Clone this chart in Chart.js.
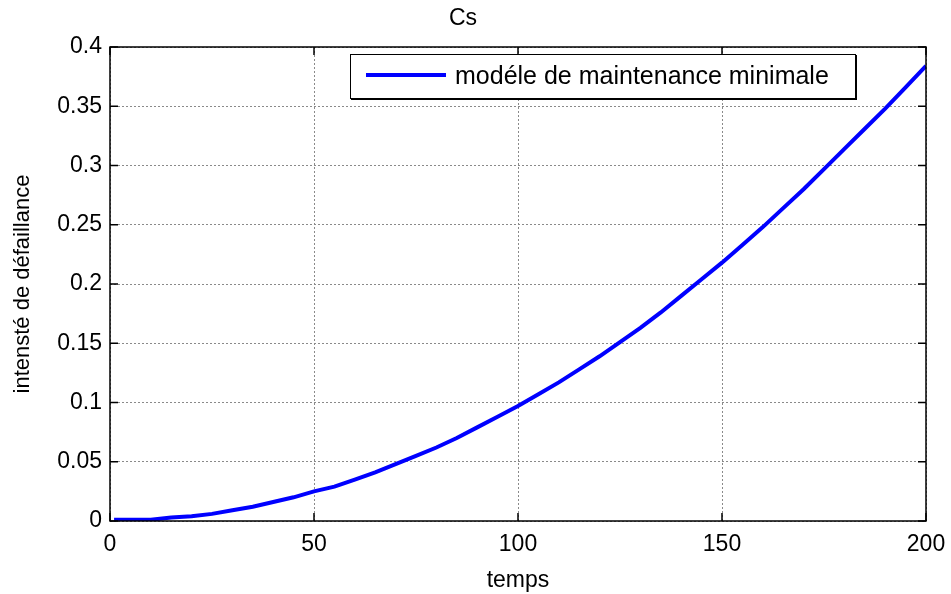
<!DOCTYPE html>
<html>
<head>
<meta charset="utf-8">
<script src="https://cdn.jsdelivr.net/npm/chart.js@4/dist/chart.umd.min.js"></script>
<style>
  html, body { margin: 0; padding: 0; background: #fff; }
  #wrap { width: 951px; height: 594px; }
</style>
</head>
<body>
<div id="wrap"><canvas id="cs"></canvas></div>
<script>
// values
const temps = [1, 5, 10, 15, 20, 25, 30, 35, 40, 45, 50, 55, 60, 65, 70, 75, 80, 85, 90, 95, 100,
  105, 110, 115, 120, 125, 130, 135, 140, 145, 150, 155, 160, 165, 170, 175, 180, 185, 190, 195, 200];
const intensite = [0.001, 0.001, 0.001, 0.003, 0.004, 0.006, 0.009, 0.012, 0.016, 0.020, 0.025,
  0.029, 0.035, 0.041, 0.048, 0.055, 0.062, 0.070, 0.079, 0.088, 0.097,
  0.107, 0.117, 0.128, 0.139, 0.151, 0.163, 0.176, 0.190, 0.204, 0.218,
  0.233, 0.248, 0.264, 0.280, 0.297, 0.314, 0.331, 0.348, 0.366, 0.384];
const xTicks = [0, 50, 100, 150, 200];
const yTicks = [0, 0.05, 0.1, 0.15, 0.2, 0.25, 0.3, 0.35, 0.4];
const serieLabel = 'modéle de maintenance minimale';

const FONT = 'Arial, "Liberation Sans", sans-serif';

// box round the plot + ticks pointing inward (matlab style) + legend
const matlabFrame = {
  id: 'matlabFrame',
  afterDraw(chart) {
    const { ctx, chartArea: a, scales } = chart;
    const x = scales.x, y = scales.y;
    const tl = 8;
    ctx.save();
    ctx.strokeStyle = '#000';
    ctx.lineWidth = 1.5;
    ctx.strokeRect(a.left, a.top, a.right - a.left, a.bottom - a.top);
    ctx.beginPath();
    xTicks.forEach(v => {
      const px = x.getPixelForValue(v);
      ctx.moveTo(px, a.bottom); ctx.lineTo(px, a.bottom - tl);
      ctx.moveTo(px, a.top); ctx.lineTo(px, a.top + tl);
    });
    yTicks.forEach(v => {
      const py = y.getPixelForValue(v);
      ctx.moveTo(a.left, py); ctx.lineTo(a.left + tl, py);
      ctx.moveTo(a.right, py); ctx.lineTo(a.right - tl, py);
    });
    ctx.stroke();

    // legend
    const bx = 350, by = 54, bw = 505, bh = 44;
    ctx.fillStyle = '#fff';
    ctx.fillRect(bx, by, bw, bh);
    ctx.lineWidth = 1;
    ctx.strokeRect(bx + 0.5, by + 0.5, bw, bh);
    ctx.lineWidth = 2;
    ctx.beginPath();
    ctx.moveTo(bx + bw + 1, by + 1); ctx.lineTo(bx + bw + 1, by + bh + 1);
    ctx.lineTo(bx + 1, by + bh + 1);
    ctx.stroke();
    const ds = chart.data.datasets[0];
    ctx.strokeStyle = ds.borderColor;
    ctx.lineWidth = 4;
    ctx.beginPath();
    ctx.moveTo(bx + 16, by + 21); ctx.lineTo(bx + 96, by + 21);
    ctx.stroke();
    ctx.fillStyle = '#000';
    ctx.font = '25px ' + FONT;
    ctx.textBaseline = 'middle';
    ctx.textAlign = 'left';
    ctx.fillText(ds.label, bx + 105, by + 23);
    ctx.restore();
  }
};

new Chart(document.getElementById('cs'), {
  type: 'line',
  data: {
    datasets: [{
      label: serieLabel,
      data: temps.map((t, i) => ({ x: t, y: intensite[i] })),
      borderColor: '#0000ff',
      borderWidth: 4,
      pointRadius: 0,
      tension: 0,
      fill: false
    }]
  },
  options: {
    responsive: true,
    maintainAspectRatio: false,
    animation: false,
    layout: { padding: { left: 0, right: 25, top: 0, bottom: 0 } },
    plugins: {
      legend: { display: false },
      tooltip: { enabled: false },
      title: {
        display: true,
        text: 'Cs',
        color: '#000',
        font: { family: FONT, size: 23, weight: 'normal', lineHeight: 1.2 },
        padding: { top: 4.5, bottom: 14.9 }
      }
    },
    scales: {
      x: {
        type: 'linear',
        min: 0, max: 200,
        afterBuildTicks: s => { s.ticks = xTicks.map(v => ({ value: v })); },
        afterFit: s => { s.height = 73; s.paddingLeft = 0; s.paddingRight = 0; },
        grid: { color: '#8a8a8a', lineWidth: 1, drawTicks: false },
        border: { display: false, dash: [2, 2] },
        ticks: { color: '#000', padding: 10, maxRotation: 0, font: { family: FONT, size: 23 } },
        title: {
          display: true, text: 'temps', color: '#000',
          font: { family: FONT, size: 23 }, padding: { top: 2, bottom: 0 }
        }
      },
      y: {
        min: 0, max: 0.4,
        afterBuildTicks: s => { s.ticks = yTicks.map(v => ({ value: v })); },
        afterFit: s => { s.width = 110; },
        grid: { color: '#8a8a8a', lineWidth: 1, drawTicks: false },
        border: { display: false, dash: [2, 2] },
        ticks: {
          color: '#000', padding: 8, font: { family: FONT, size: 23 },
          callback: v => String(+v.toFixed(2))
        },
        title: {
          display: true, text: 'intensté de défaillance', color: '#000',
          font: { family: FONT, size: 22 }, padding: { top: 10, bottom: 0 }
        }
      }
    }
  },
  plugins: [matlabFrame]
});
</script>
</body>
</html>
